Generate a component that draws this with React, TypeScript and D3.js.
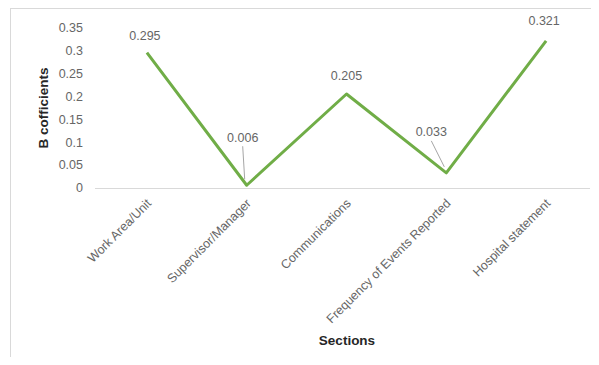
import React from "react";
import * as d3 from "d3";

const categories = [
  "Work Area/Unit",
  "Supervisor/Manager",
  "Communications",
  "Frequency of Events Reported",
  "Hospital statement",
];
const values = [0.295, 0.006, 0.205, 0.033, 0.321];
const valueLabels = ["0.295", "0.006", "0.205", "0.033", "0.321"];
const yTicks = [0, 0.05, 0.1, 0.15, 0.2, 0.25, 0.3, 0.35];
const yTickLabels = ["0", "0.05", "0.1", "0.15", "0.2", "0.25", "0.3", "0.35"];

const W = 599;
const H = 365;
const FONT = "'Liberation Sans', Arial, sans-serif";
const GRAY = "#666666";

// label offsets relative to the point (dx, dy) and whether a leader line is shown
const labelOffsets: [number, number, boolean][] = [
  [-2, -17, false],
  [-4, -48, true],
  [0, -18, false],
  [-15, -41, true],
  [-2, -20, false],
];

export default function App() {
  const x = d3.scaleBand<string>().domain(categories).range([97, 596]);
  const y = d3.scaleLinear().domain([0, 0.35]).range([188, 27.5]);
  const cx = (c: string) => (x(c) as number) + x.bandwidth() / 2;

  const line = d3
    .line<number>()
    .x((_, i) => cx(categories[i]))
    .y((d) => y(d));

  return (
    <div style={{ margin: -8 }}>
      <svg width={W} height={H} style={{ display: "block", background: "#fff" }}>
        <rect x={10.5} y={8.5} width={W} height={H} fill="#fff" stroke="#d9d9d9" />
        {/* y tick labels */}
        {yTicks.map((t, i) => (
          <text
            key={t}
            x={83}
            y={y(t)}
            dy="0.35em"
            textAnchor="end"
            fontSize={12.5}
            fontFamily={FONT}
            fill={GRAY}
          >
            {yTickLabels[i]}
          </text>
        ))}
        {/* x axis line */}
        <line x1={95} x2={590} y1={y(0) + 0.5} y2={y(0) + 0.5} stroke="#d9d9d9" strokeWidth={1} />
        {/* x tick labels */}
        {categories.map((c) => (
          <text
            key={c}
            transform={`translate(${cx(c) + 2},${y(0) + 13}) rotate(-45)`}
            textAnchor="end"
            dy="0.35em"
            fontSize={12.5}
            fontFamily={FONT}
            fill={GRAY}
          >
            {c}
          </text>
        ))}
        {/* line */}
        <path d={line(values) || ""} fill="none" stroke="#70ad47" strokeWidth={3} strokeLinejoin="round" />
        {/* data labels */}
        {values.map((v, i) => {
          const px = cx(categories[i]);
          const py = y(v);
          const [dx, dy, leader] = labelOffsets[i];
          return (
            <g key={i}>
              {leader && (
                <line
                  x1={px + dx + 0}
                  y1={py + dy + 9}
                  x2={px - 2}
                  y2={py - 6}
                  stroke="#a6a6a6"
                  strokeWidth={1}
                />
              )}
              <text
                x={px + dx}
                y={py + dy}
                dy="0.35em"
                textAnchor="middle"
                fontSize={12.5}
                fontFamily={FONT}
                fill={GRAY}
              >
                {valueLabels[i]}
              </text>
            </g>
          );
        })}
        {/* axis titles */}
        <text
          transform={`translate(43,108) rotate(-90)`}
          textAnchor="middle"
          dy="0.35em"
          fontSize={13.5}
          fontWeight="bold"
          fontFamily={FONT}
          fill="#262626"
        >
          B cofficients
        </text>
        <text
          x={347}
          y={340}
          dy="0.35em"
          textAnchor="middle"
          fontSize={13.5}
          fontWeight="bold"
          fontFamily={FONT}
          fill="#262626"
        >
          Sections
        </text>
      </svg>
    </div>
  );
}
